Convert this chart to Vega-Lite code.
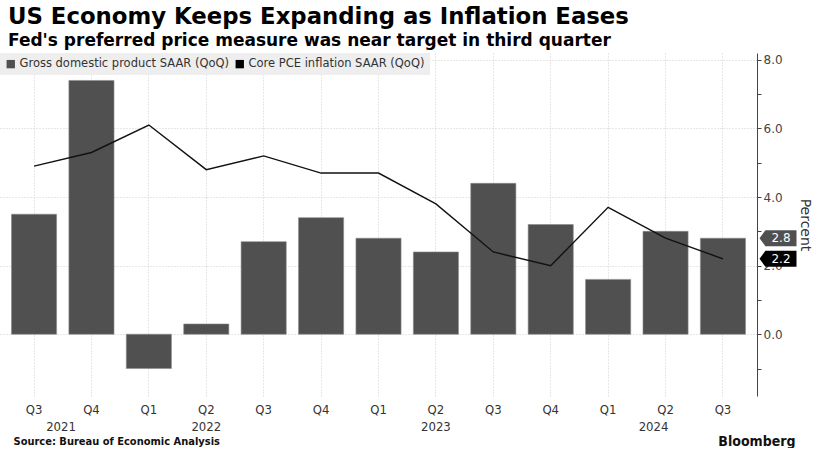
{
  "$schema": "https://vega.github.io/schema/vega-lite/v6.json",
  "width": 757,
  "height": 343,
  "padding": {"left": 0, "top": 6, "right": 10, "bottom": 0},
  "autosize": {"type": "pad"},
  "background": "white",
  "title": {
    "text": "US Economy Keeps Expanding as Inflation Eases",
    "subtitle": "Fed's preferred price measure was near target in third quarter",
    "anchor": "start",
    "dx": 8,
    "font": "DejaVu Sans",
    "fontSize": 22.8,
    "fontWeight": "bold",
    "color": "#000000",
    "subtitleFont": "DejaVu Sans",
    "subtitleFontSize": 17,
    "subtitleFontWeight": "bold",
    "subtitleColor": "#000000",
    "subtitlePadding": 4,
    "offset": 4
  },
  "config": {
    "view": {"stroke": null},
    "legend": {
      "orient": "top-left",
      "offset": 0,
      "direction": "horizontal",
      "fillColor": "#eeeeee",
      "padding": 5,
      "labelFont": "DejaVu Sans",
      "labelFontSize": 11.5,
      "labelColor": "#333333",
      "labelLimit": 400,
      "symbolType": "square",
      "symbolSize": 70,
      "symbolStrokeWidth": 0,
      "columnPadding": 4,
      "labelOffset": 3,
      "title": null
    }
  },
  "data": {
    "values": [
      {"quarter": "Q3 2021", "series": "Gross domestic product SAAR (QoQ)", "value": 3.5},
      {"quarter": "Q4 2021", "series": "Gross domestic product SAAR (QoQ)", "value": 7.4},
      {"quarter": "Q1 2022", "series": "Gross domestic product SAAR (QoQ)", "value": -1.0},
      {"quarter": "Q2 2022", "series": "Gross domestic product SAAR (QoQ)", "value": 0.3},
      {"quarter": "Q3 2022", "series": "Gross domestic product SAAR (QoQ)", "value": 2.7},
      {"quarter": "Q4 2022", "series": "Gross domestic product SAAR (QoQ)", "value": 3.4},
      {"quarter": "Q1 2023", "series": "Gross domestic product SAAR (QoQ)", "value": 2.8},
      {"quarter": "Q2 2023", "series": "Gross domestic product SAAR (QoQ)", "value": 2.4},
      {"quarter": "Q3 2023", "series": "Gross domestic product SAAR (QoQ)", "value": 4.4},
      {"quarter": "Q4 2023", "series": "Gross domestic product SAAR (QoQ)", "value": 3.2},
      {"quarter": "Q1 2024", "series": "Gross domestic product SAAR (QoQ)", "value": 1.6},
      {"quarter": "Q2 2024", "series": "Gross domestic product SAAR (QoQ)", "value": 3.0},
      {"quarter": "Q3 2024", "series": "Gross domestic product SAAR (QoQ)", "value": 2.8},
      {"quarter": "Q3 2021", "series": "Core PCE inflation SAAR (QoQ)", "value": 4.9},
      {"quarter": "Q4 2021", "series": "Core PCE inflation SAAR (QoQ)", "value": 5.3},
      {"quarter": "Q1 2022", "series": "Core PCE inflation SAAR (QoQ)", "value": 6.1},
      {"quarter": "Q2 2022", "series": "Core PCE inflation SAAR (QoQ)", "value": 4.8},
      {"quarter": "Q3 2022", "series": "Core PCE inflation SAAR (QoQ)", "value": 5.2},
      {"quarter": "Q4 2022", "series": "Core PCE inflation SAAR (QoQ)", "value": 4.7},
      {"quarter": "Q1 2023", "series": "Core PCE inflation SAAR (QoQ)", "value": 4.7},
      {"quarter": "Q2 2023", "series": "Core PCE inflation SAAR (QoQ)", "value": 3.8},
      {"quarter": "Q3 2023", "series": "Core PCE inflation SAAR (QoQ)", "value": 2.4},
      {"quarter": "Q4 2023", "series": "Core PCE inflation SAAR (QoQ)", "value": 2.0},
      {"quarter": "Q1 2024", "series": "Core PCE inflation SAAR (QoQ)", "value": 3.7},
      {"quarter": "Q2 2024", "series": "Core PCE inflation SAAR (QoQ)", "value": 2.8},
      {"quarter": "Q3 2024", "series": "Core PCE inflation SAAR (QoQ)", "value": 2.2}
    ]
  },
  "layer": [
    {
      "transform": [{"filter": "datum.series === 'Gross domestic product SAAR (QoQ)'"}],
      "mark": {"type": "bar", "stroke": "#8a8a8a", "strokeWidth": 0.6},
      "encoding": {
        "x": {
          "field": "quarter", "type": "nominal", "sort": null,
          "scale": {"paddingInner": 0.214, "paddingOuter": 0.2},
          "axis": {
            "orient": "bottom",
            "labelExpr": "split(datum.value, ' ')[0]",
            "labelAngle": 0,
            "labelFont": "DejaVu Sans Condensed, Liberation Sans Narrow, sans-serif",
            "labelFontSize": 13,
            "labelColor": "#333333",
            "labelPadding": 7,
            "domain": false,
            "ticks": false,
            "grid": true,
            "gridColor": "#cfcfcf",
            "gridDash": [1, 2],
            "gridWidth": 1,
            "title": "Bloomberg",
            "titleFont": "DejaVu Sans Condensed, Liberation Sans Narrow, sans-serif",
            "titleFontSize": 14,
            "titleFontWeight": "bold",
            "titleColor": "#111111",
            "titleAlign": "right",
            "titleBaseline": "middle",
            "titleX": 795,
            "titleY": 45
          }
        },
        "y": {
          "field": "value", "type": "quantitative",
          "scale": {"domain": [-1.8, 8.2], "nice": false, "zero": false},
          "axis": {
            "orient": "right",
            "values": [0, 2, 4, 6, 8],
            "format": ".1f",
            "labelFont": "DejaVu Sans",
            "labelFontSize": 12,
            "labelColor": "#444444",
            "labelPadding": 2,
            "labelOverlap": false,
            "domain": true,
            "domainColor": "#444444",
            "domainWidth": 1,
            "tickColor": "#444444",
            "tickSize": 4,
            "grid": true,
            "gridColor": "#cfcfcf",
            "gridDash": [1, 2],
            "title": "Percent",
            "titleFont": "DejaVu Sans",
            "titleFontSize": 14,
            "titleFontWeight": "normal",
            "titleColor": "#333333",
            "titlePadding": 15
          }
        },
        "color": {
          "field": "series", "type": "nominal",
          "scale": {
            "domain": ["Gross domestic product SAAR (QoQ)", "Core PCE inflation SAAR (QoQ)"],
            "range": ["#505050", "#000000"]
          }
        }
      }
    },
    {
      "transform": [{"filter": "datum.series === 'Core PCE inflation SAAR (QoQ)'"}],
      "mark": {"type": "line", "color": "#111111", "strokeWidth": 1.4},
      "encoding": {
        "x": {
          "field": "quarter", "type": "nominal", "sort": null,
          "axis": {
            "orient": "bottom",
            "labelExpr": "datum.value === 'Q3 2021' ? '2021' : datum.value === 'Q2 2022' ? '2022' : datum.value === 'Q2 2023' ? '2023' : datum.value === 'Q2 2024' ? '2024' : ''",
            "labelAngle": 0,
            "labelFont": "DejaVu Sans Condensed, Liberation Sans Narrow, sans-serif",
            "labelFontSize": 13,
            "labelColor": "#333333",
            "labelPadding": 24,
            "labelOffset": {"condition": [{"test": "datum.value === 'Q3 2021'", "value": 27}, {"test": "datum.value === 'Q2 2024'", "value": -12}], "value": 0},
            "domain": false,
            "ticks": false,
            "grid": false,
            "title": "Source: Bureau of Economic Analysis",
            "titleFont": "DejaVu Sans Condensed, Liberation Sans Narrow, sans-serif",
            "titleFontSize": 11,
            "titleFontWeight": "bold",
            "titleColor": "#111111",
            "titleAlign": "left",
            "titleBaseline": "middle",
            "titleX": 13,
            "titleY": 45
          }
        },
        "y": {
          "field": "value", "type": "quantitative",
          "axis": {
            "orient": "right",
            "values": [-1, 1, 3, 5, 7],
            "labels": false,
            "grid": false,
            "domain": false,
            "tickSize": 4,
            "tickColor": "#444444",
            "title": null
          }
        }
      }
    },
    {
      "transform": [{"filter": "datum.quarter === 'Q3 2024'"}],
      "mark": {
        "type": "point",
        "shape": "M-1,0 L-0.68,-0.43 L1,-0.43 L1,0.43 L-0.68,0.43 Z",
        "size": 1369,
        "filled": true,
        "opacity": 1,
        "x": {"expr": "width + 21"}
      },
      "encoding": {
        "y": {"field": "value", "type": "quantitative", "axis": null},
        "color": {"field": "series", "type": "nominal"}
      }
    },
    {
      "transform": [{"filter": "datum.quarter === 'Q3 2024'"}],
      "mark": {
        "type": "text",
        "color": "white",
        "font": "DejaVu Sans",
        "fontSize": 12,
        "align": "center",
        "baseline": "middle",
        "x": {"expr": "width + 24"}
      },
      "encoding": {
        "y": {"field": "value", "type": "quantitative", "axis": null},
        "text": {"field": "value", "type": "quantitative", "format": ".1f"}
      }
    }
  ],
  "resolve": {"axis": {"x": "independent", "y": "independent"}}
}
